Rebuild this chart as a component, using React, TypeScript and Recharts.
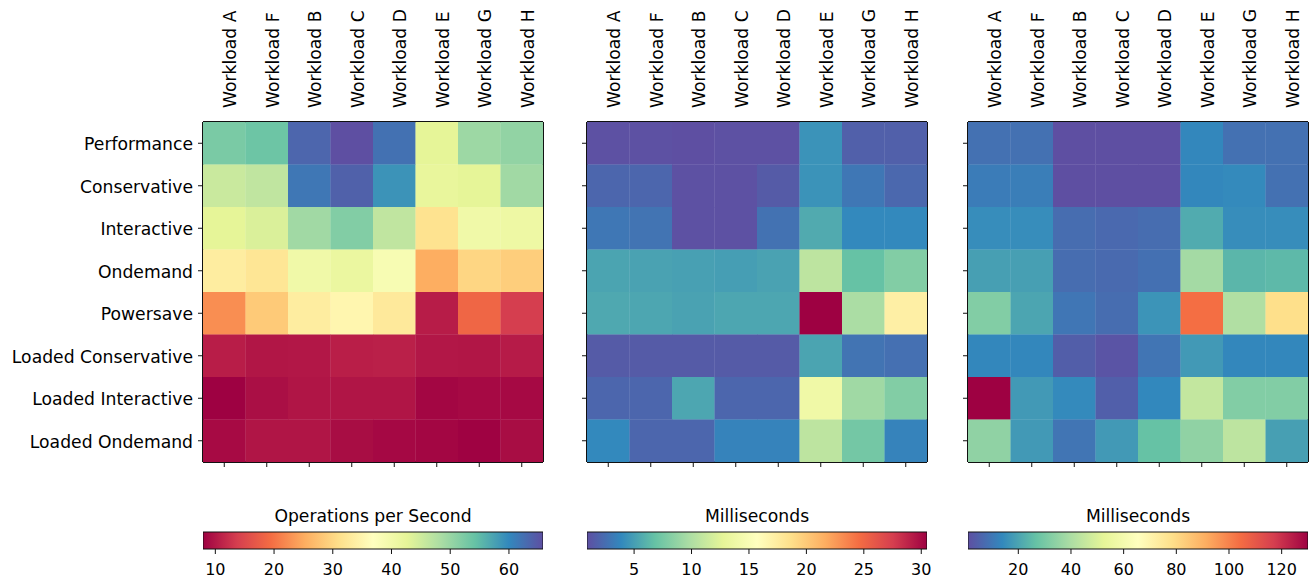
import React from 'react';
import { ScatterChart, Scatter, BarChart, Bar, LabelList, XAxis, YAxis } from 'recharts';

const workloads = ['Workload A', 'Workload F', 'Workload B', 'Workload C', 'Workload D', 'Workload E', 'Workload G', 'Workload H'];
const governors = ['Performance', 'Conservative', 'Interactive', 'Ondemand', 'Powersave', 'Loaded Conservative', 'Loaded Interactive', 'Loaded Ondemand'];

// one row per governor, one column per workload
const opsPerSecond = [
  [52.5, 53.6, 63.5, 65.8, 62.3, 42.6, 49.6, 50.5],
  [45.5, 46.4, 61.7, 64.0, 58.9, 42.0, 42.6, 49.3],
  [42.6, 43.8, 49.3, 51.9, 46.4, 31.6, 40.3, 40.9],
  [33.4, 32.2, 40.3, 41.5, 38.6, 25.3, 29.9, 29.0],
  [22.4, 28.5, 33.4, 35.1, 32.8, 10.5, 18.6, 13.7],
  [10.6, 9.9, 10.0, 10.7, 10.8, 10.0, 9.9, 10.4],
  [7.9, 9.2, 9.8, 9.8, 9.8, 8.4, 8.7, 8.7],
  [8.8, 9.8, 9.8, 9.0, 8.6, 8.4, 8.0, 9.0],
];

const latencyA = [
  [1.0, 1.0, 0.9, 1.0, 1.0, 4.4, 1.8, 1.8],
  [2.1, 2.1, 1.0, 1.0, 1.5, 4.4, 3.0, 2.2],
  [3.0, 2.8, 1.0, 1.0, 2.7, 5.6, 3.9, 3.9],
  [5.3, 5.2, 5.1, 5.0, 5.2, 10.7, 6.8, 8.0],
  [5.5, 5.4, 5.2, 5.4, 5.4, 30.5, 9.8, 17.2],
  [1.5, 1.5, 1.5, 1.5, 1.5, 5.3, 2.8, 2.6],
  [2.1, 2.1, 5.4, 2.1, 2.1, 13.9, 9.3, 8.0],
  [3.9, 2.1, 2.1, 3.6, 3.6, 10.7, 7.4, 3.6],
];

const latencyB = [
  [8.6, 8.6, 1.0, 1.0, 1.0, 13.5, 8.6, 8.6],
  [11.2, 11.6, 1.0, 0.9, 1.0, 13.5, 14.3, 8.6],
  [15.0, 15.0, 7.6, 6.9, 7.6, 21.5, 15.0, 15.0],
  [19.0, 19.0, 7.6, 7.0, 8.4, 38.3, 24.1, 24.8],
  [31.9, 20.3, 9.8, 7.6, 16.4, 104.0, 40.9, 78.4],
  [13.5, 13.5, 4.4, 2.1, 9.4, 17.7, 13.5, 13.5],
  [130.0, 17.7, 14.3, 4.6, 13.8, 44.8, 31.9, 31.9],
  [34.5, 17.7, 9.4, 17.7, 26.7, 34.5, 43.5, 19.0],
];

const opsTicks = [10, 20, 30, 40, 50, 60];
const latencyATicks = [5, 10, 15, 20, 25, 30];
const latencyBTicks = [20, 40, 60, 80, 100, 120];

const SPECTRAL = ['#9e0142', '#d53e4f', '#f46d43', '#fdae61', '#fee08b', '#ffffbf', '#e6f598', '#abdda4', '#66c2a5', '#3288bd', '#5e4fa2'];
const FONT = '"DejaVu Sans", sans-serif';
const FS = 17.2;
const PLOT = 340;
const CELL = PLOT / workloads.length;
const TICK = 5;
const INK = '#111';
const idx = workloads.map((_, i) => i);

const hexRgb = (h: string) => [1, 3, 5].map((o) => parseInt(h.slice(o, o + 2), 16));

function spectral(t: number) {
  const p = Math.min(Math.max(t, 0), 1) * 10;
  const i = Math.min(Math.floor(p), 9);
  const f = p - i;
  const a = hexRgb(SPECTRAL[i]);
  const b = hexRgb(SPECTRAL[i + 1]);
  const c = a.map((v, k) => Math.round(v + (b[k] - v) * f));
  return `rgb(${c[0]},${c[1]},${c[2]})`;
}

const TopTick = (props: any) => {
  const { x, y, payload } = props;
  const px = x + 12;
  return (
    <text x={px} y={y} transform={`rotate(-90 ${px} ${y})`} textAnchor="start" fontSize={FS} fontFamily={FONT} fill="#000">
      {workloads[payload.value]}
    </text>
  );
};

const BottomTick = (props: any) => {
  const { x, y } = props;
  return <line x1={x} y1={y} x2={x} y2={y + TICK} stroke={INK} strokeWidth={1} />;
};

const makeLeftTick = (showLabels: boolean) => (props: any) => {
  const { x, y, payload } = props;
  return (
    <g>
      <line x1={x - TICK} y1={y} x2={x} y2={y} stroke={INK} strokeWidth={1} />
      {showLabels && (
        <text x={x - TICK - 5} y={y + 7} textAnchor="end" fontSize={FS} fontFamily={FONT} fill="#000">
          {governors[payload.value]}
        </text>
      )}
    </g>
  );
};

const BarTick = (props: any) => {
  const { x, y, payload } = props;
  return (
    <g>
      <line x1={x} y1={y} x2={x} y2={y + TICK} stroke={INK} strokeWidth={1} />
      <text x={x} y={y + TICK + 21} textAnchor="middle" fontSize={16} fontFamily={FONT} fill="#000">
        {payload.value}
      </text>
    </g>
  );
};

const renderCell = (props: any) => {
  const { cx, cy, payload } = props;
  return <rect x={cx - CELL / 2} y={cy - CELL / 2} width={CELL + 0.3} height={CELL + 0.3} fill={payload.color} />;
};

type PanelProps = {
  values: number[][];
  reversed: boolean;
  left: number;
  width: number;
  marginLeft: number;
  yWidth: number;
  showLabels: boolean;
  title: string;
  ticks: number[];
  id: string;
};

const frame = { stroke: INK, strokeWidth: 2 };

const Panel = ({ values, reversed, left, width, marginLeft, yWidth, showLabels, title, ticks, id }: PanelProps) => {
  const flat = values.flat();
  const min = Math.min(...flat);
  const max = Math.max(...flat);
  const cells = values.flatMap((row, r) =>
    row.map((v, c) => {
      const t = (v - min) / (max - min);
      return { x: c, y: r, v, color: spectral(reversed ? 1 - t : t) };
    })
  );
  const bounds = [{ name: title, range: [min, max] }];
  const right = width - (marginLeft + yWidth + PLOT);
  const stops = reversed ? [...SPECTRAL].reverse() : SPECTRAL;
  const LeftTick = makeLeftTick(showLabels);

  return (
    <div style={{ position: 'absolute', left, top: 0, width, height: 582 }}>
      <ScatterChart width={width} height={480} margin={{ top: 8, right: right - 1, bottom: 8, left: marginLeft }}>
        <Scatter data={cells} xAxisId="b" yAxisId="l" dataKey="v" shape={renderCell} isAnimationActive={false} />
        <XAxis xAxisId="t" orientation="top" type="number" dataKey="x" domain={[-0.5, 7.5]} ticks={idx} interval={0}
          height={114} tickSize={0} tickMargin={14} tick={<TopTick />} tickLine={false}
          axisLine={frame} allowDataOverflow />
        <XAxis xAxisId="b" orientation="bottom" type="number" dataKey="x" domain={[-0.5, 7.5]} ticks={idx} interval={0}
          height={10} tickSize={0} tickMargin={0} tick={<BottomTick />} tickLine={false} axisLine={frame} allowDataOverflow />
        <YAxis yAxisId="l" type="number" dataKey="y" domain={[-0.5, 7.5]} ticks={idx} interval={0} reversed
          width={yWidth} tickSize={0} tickMargin={0} tickLine={false} axisLine={frame}
          tick={<LeftTick />} allowDataOverflow />
        <YAxis yAxisId="r" orientation="right" type="number" domain={[-0.5, 7.5]} width={1} tick={false} tickLine={false}
          axisLine={frame} allowDataOverflow />
      </ScatterChart>
      <div style={{ position: 'absolute', left: 0, top: 490 }}>
        <BarChart layout="vertical" width={width} height={92} data={bounds} barCategoryGap={0}
          margin={{ top: 42, right, bottom: 8, left: marginLeft + yWidth }}>
          <defs>
            <linearGradient id={id} x1="0" y1="0" x2="1" y2="0">
              {stops.map((c, i) => (
                <stop key={i} offset={i / 10} stopColor={c} />
              ))}
            </linearGradient>
          </defs>
          <XAxis type="number" domain={[min, max]} ticks={ticks} interval={0} height={25} tickSize={0} tickMargin={0}
            axisLine={false} tickLine={false} tick={<BarTick />} allowDataOverflow />
          <YAxis type="category" dataKey="name" hide />
          <Bar dataKey="range" fill={`url(#${id})`} stroke={INK} strokeWidth={1} isAnimationActive={false}>
            <LabelList dataKey="name" position="top" offset={10} fill="#000" fontSize={FS} fontFamily={FONT} />
          </Bar>
        </BarChart>
      </div>
    </div>
  );
};

export default function App() {
  return (
    <div style={{ position: 'absolute', left: 0, top: 0, width: 1315, height: 582, background: '#fff', fontFamily: FONT }}>
      <Panel values={opsPerSecond} reversed={false} left={0} width={560} marginLeft={8} yWidth={195} showLabels
        title="Operations per Second" ticks={opsTicks} id="cbOps" />
      <Panel values={latencyA} reversed left={560} width={380} marginLeft={17} yWidth={10} showLabels={false}
        title="Milliseconds" ticks={latencyATicks} id="cbLatA" />
      <Panel values={latencyB} reversed left={940} width={375} marginLeft={18} yWidth={10} showLabels={false}
        title="Milliseconds" ticks={latencyBTicks} id="cbLatB" />
    </div>
  );
}
